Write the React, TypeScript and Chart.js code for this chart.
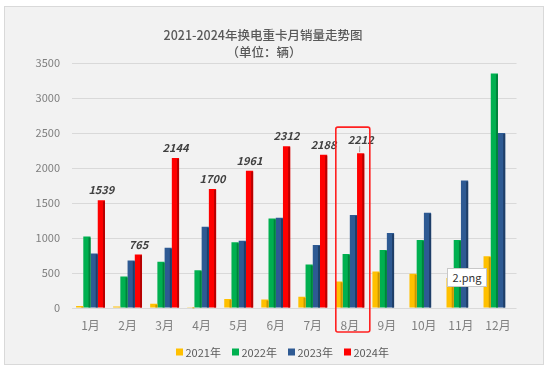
import React, { useEffect, useRef } from "react";
import { Chart, registerables } from "chart.js";

Chart.register(...registerables);

const categories = ["1月", "2月", "3月", "4月", "5月", "6月", "7月", "8月", "9月", "10月", "11月", "12月"];
const seriesNames = ["2021年", "2022年", "2023年", "2024年"];
const sales2021 = [30, 20, 60, 10, 130, 120, 160, 380, 520, 490, 430, 740];
const sales2022 = [1020, 450, 660, 540, 940, 1280, 620, 770, 830, 970, 970, 3350];
const sales2023 = [780, 680, 860, 1160, 960, 1290, 900, 1330, 1070, 1360, 1820, 2500];
const sales2024 = [1539, 765, 2144, 1700, 1961, 2312, 2188, 2212, null, null, null, null];
const yMax = 3500;
const yStep = 500;
const highlightIndex = 7;

const colors = ["#FFC000", "#00B050", "#2E5A93", "#FF0000"];
const sideColors = ["#C89600", "#00833B", "#1E3E68", "#B80000"];
const FONT = '"Noto Sans CJK SC", "Noto Sans", sans-serif';

export default function App() {
  const ref = useRef<HTMLCanvasElement | null>(null);

  useEffect(() => {
    const canvas = ref.current;
    if (!canvas) return;

    const bgPlugin = {
      id: "bg",
      beforeDraw(chart: any) {
        const c = chart.ctx;
        c.save();
        c.fillStyle = "#ffffff";
        c.fillRect(0, 0, chart.width, chart.height);
        c.fillStyle = "#F2F2F2";
        c.fillRect(4.5, 6.5, 539, 358);
        c.strokeStyle = "#D9D9D9";
        c.lineWidth = 1;
        c.strokeRect(4.5, 6.5, 539, 358);
        c.fillStyle = "#595959";
        c.textAlign = "center";
        c.textBaseline = "middle";
        c.font = `500 12.5px ${FONT}`;
        c.fillText("2021-2024年换电重卡月销量走势图", 263, 35);
        c.fillText("（单位：辆）", 264, 52);
        c.restore();
      },
    };

    const decoPlugin = {
      id: "deco",
      afterDatasetsDraw(chart: any) {
        const c = chart.ctx;
        c.save();
        // side shading for a 3D look
        chart.data.datasets.forEach((ds: any, di: number) => {
          const meta = chart.getDatasetMeta(di);
          meta.data.forEach((el: any, i: number) => {
            if (ds.data[i] == null) return;
            const w = el.width;
            const right = el.x + w / 2;
            c.fillStyle = sideColors[di];
            c.fillRect(right - 2, el.y + 1, 2, el.base - el.y - 1);
          });
        });
        // labels for 2024
        const meta = chart.getDatasetMeta(3);
        c.font = `italic bold 11px ${FONT}`;
        c.fillStyle = "#404040";
        c.textAlign = "center";
        c.textBaseline = "middle";
        meta.data.forEach((el: any, i: number) => {
          const v = sales2024[i];
          if (v == null) return;
          const off = i === highlightIndex ? 13 : 10;
          c.fillText(String(v), el.x, el.y - off);
          if (i === highlightIndex) {
            c.strokeStyle = "#A0A0A0";
            c.lineWidth = 1;
            c.beginPath();
            c.moveTo(el.x - 1, el.y - 7);
            c.lineTo(el.x - 1, el.y - 1);
            c.stroke();
          }
        });
        // highlight box
        const xs = chart.scales.x;
        const ys = chart.scales.y;
        const cx = xs.getPixelForValue(highlightIndex);
        const top = ys.getPixelForValue(sales2024[highlightIndex] as number) - 26;
        const bottom = ys.getPixelForValue(0) + 24;
        c.strokeStyle = "#FF2020";
        c.lineWidth = 1.6;
        c.beginPath();
        (c as any).roundRect(cx - 14, top, 34, bottom - top, 2);
        c.stroke();
        // legend
        c.font = `11px ${FONT}`;
        c.textAlign = "left";
        c.textBaseline = "middle";
        const ly = 352;
        let lx = 176;
        seriesNames.forEach((name, i) => {
          c.fillStyle = colors[i];
          c.fillRect(lx, ly - 3.5, 7, 7);
          c.fillStyle = "#595959";
          c.fillText(name, lx + 9.5, ly + 0.5);
          lx += 56;
        });
        c.restore();
      },
    };

    const chart = new Chart(canvas, {
      type: "bar",
      data: {
        labels: categories,
        datasets: [sales2021, sales2022, sales2023, sales2024].map((d, i) => ({
          label: seriesNames[i],
          data: d,
          backgroundColor: colors[i],
          borderWidth: 0,
          categoryPercentage: 0.78,
          barPercentage: 1.0,
        })),
      },
      options: {
        animation: false,
        responsive: false,
        layout: { padding: { left: 4, right: 34.5, top: 63, bottom: 5 } },
        plugins: {
          title: { display: false },
          tooltip: { enabled: false },
          legend: { display: false },
        },
        scales: {
          x: {
            grid: { display: false },
            border: { display: false },
            ticks: { color: "#7F7F7F", font: { family: FONT, size: 12 }, padding: 2 },
            afterFit(scale: any) {
              scale.height = 57;
            },
          },
          y: {
            min: 0,
            max: yMax,
            ticks: {
              stepSize: yStep,
              color: "#7F7F7F",
              font: { family: FONT, size: 11 },
              padding: 12,
              callback: (v: any) => String(v),
            },
            grid: { color: "#D9D9D9", drawTicks: false },
            border: { display: false },
            afterFit(scale: any) {
              scale.width = 68;
            },
          },
        },
      },
      plugins: [bgPlugin, decoPlugin],
    } as any);

    return () => chart.destroy();
  }, []);

  return (
    <div style={{ position: "fixed", left: 0, top: 0, width: 551, height: 370 }}>
      <canvas ref={ref} width={551} height={370} style={{ display: "block" }} />
      <div
        style={{
          position: "absolute",
          left: 447,
          top: 268,
          width: 40,
          height: 19,
          background: "#ffffff",
          border: "1px solid #C8C8C8",
          boxSizing: "border-box",
          fontFamily: FONT,
          fontSize: 11,
          color: "#333333",
          lineHeight: "17px",
          textAlign: "center",
        }}
      >
        2.png
      </div>
    </div>
  );
}
